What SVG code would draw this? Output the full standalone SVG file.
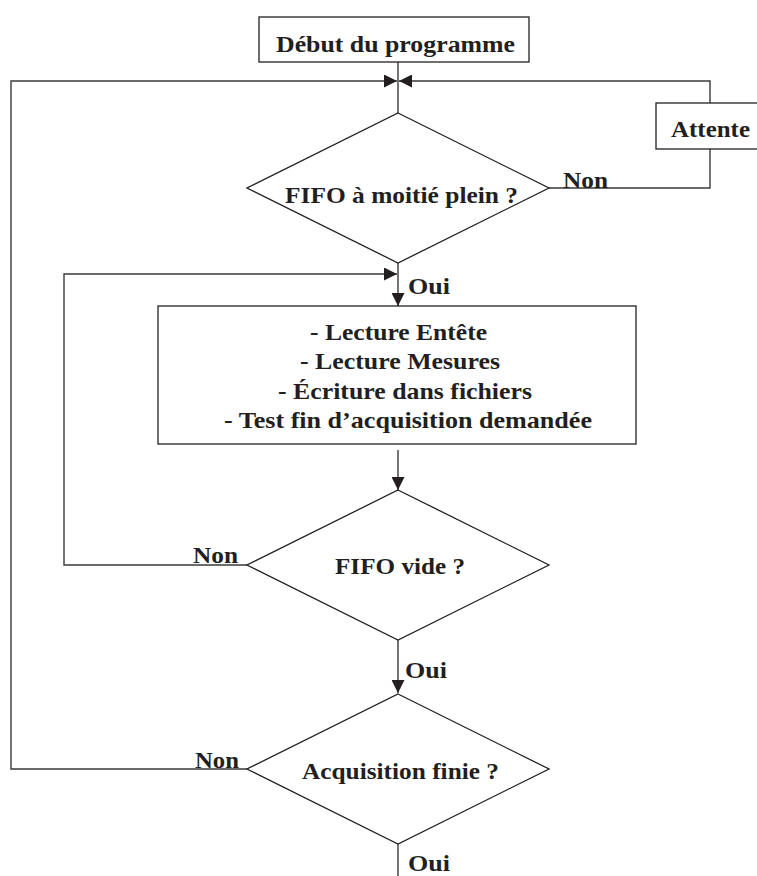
<svg xmlns="http://www.w3.org/2000/svg" width="757" height="876" viewBox="0 0 757 876">
<style>
.shape{fill:#fff;stroke:#231f20;stroke-width:1.3}
.conn{fill:none;stroke:#3a3a3a;stroke-width:1.4}
text{font-family:"Liberation Serif","Times New Roman",serif;font-weight:bold;font-size:23px;fill:#231f20}
</style>
<defs>
<marker id="arr" markerUnits="userSpaceOnUse" markerWidth="13" markerHeight="13" refX="13" refY="6.5" orient="auto">
<path d="M0,0 L13,6.5 L0,13 z" fill="#231f20"/>
</marker>
</defs>
<rect width="757" height="876" fill="#fff"/>
<g id="connectors">
<path class="conn" d="M398,62 V113"/>
<path class="conn" d="M247,769 H11 V81 H397" marker-end="url(#arr)"/>
<path class="conn" d="M549,188 H710 V149"/>
<path class="conn" d="M710,103 V81 H399" marker-end="url(#arr)"/>
<path class="conn" d="M398,263 V306" marker-end="url(#arr)"/>
<path class="conn" d="M247,565 H64 V274 H397" marker-end="url(#arr)"/>
<path class="conn" d="M398,450 V490" marker-end="url(#arr)"/>
<path class="conn" d="M398,640 V693" marker-end="url(#arr)"/>
<path class="conn" d="M398,844 V876"/>
<text x="563" y="188" textLength="45" lengthAdjust="spacingAndGlyphs">Non</text>
<text x="408" y="294" textLength="42" lengthAdjust="spacingAndGlyphs">Oui</text>
<text x="193" y="563" textLength="45" lengthAdjust="spacingAndGlyphs">Non</text>
<text x="405" y="678" textLength="42" lengthAdjust="spacingAndGlyphs">Oui</text>
<text x="195" y="768" textLength="44" lengthAdjust="spacingAndGlyphs">Non</text>
<text x="408" y="871" textLength="42" lengthAdjust="spacingAndGlyphs">Oui</text>
</g>
<g id="start">
<rect class="shape" x="259" y="17" width="270" height="45"/>
<text x="276" y="52" textLength="239" lengthAdjust="spacingAndGlyphs">Début du programme</text>
</g>
<g id="attente">
<rect class="shape" x="656" y="103" width="110" height="46"/>
<text x="671" y="137" textLength="79" lengthAdjust="spacingAndGlyphs">Attente</text>
</g>
<g id="fifo-moitie">
<polygon class="shape" points="398,113 549,188 398,263 247,188"/>
<text x="285" y="203" textLength="233" lengthAdjust="spacingAndGlyphs">FIFO à moitié plein ?</text>
</g>
<g id="lecture">
<rect class="shape" x="158" y="306" width="478" height="138"/>
<text x="310" y="340" textLength="177" lengthAdjust="spacingAndGlyphs">- Lecture Entête</text>
<text x="300" y="369" textLength="200" lengthAdjust="spacingAndGlyphs">- Lecture Mesures</text>
<text x="278" y="399" textLength="254" lengthAdjust="spacingAndGlyphs">- Écriture dans fichiers</text>
<text x="224" y="428" textLength="368" lengthAdjust="spacingAndGlyphs">- Test fin d’acquisition demandée</text>
</g>
<g id="fifo-vide">
<polygon class="shape" points="398,490 549,565 398,640 247,565"/>
<text x="335" y="574" textLength="130" lengthAdjust="spacingAndGlyphs">FIFO vide ?</text>
</g>
<g id="acquisition-finie">
<polygon class="shape" points="398,694 549,769 398,844 247,769"/>
<text x="302" y="779" textLength="197" lengthAdjust="spacingAndGlyphs">Acquisition finie ?</text>
</g>
</svg>
